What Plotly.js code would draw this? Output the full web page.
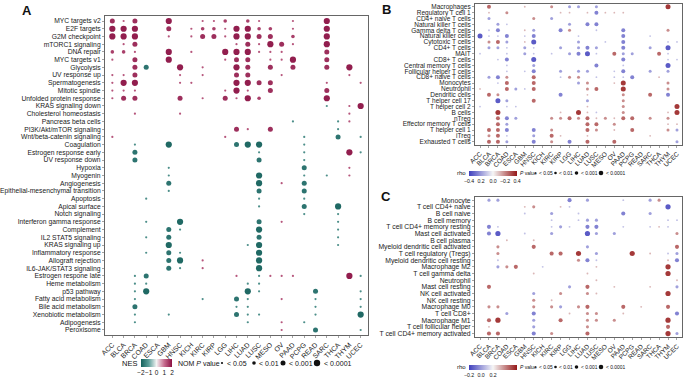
<!DOCTYPE html>
<html><head><meta charset="utf-8">
<script src="https://cdn.plot.ly/plotly-3.0.1.min.js"></script>
<style>html,body{margin:0;padding:0;background:#fff}#chart{width:691px;height:378px}</style>
</head><body><div id="chart"></div>
<script>
// ---------------- DATA ----------------
const cancers = ['ACC','BLCA','BRCA','COAD','ESCA','GBM','HNSC','KICH','KIRC','KIRP','LGG','LIHC','LUAD','LUSC','MESO','OV','PAAD','PCPG','READ','SARC','THCA','THYM','UCEC'];

const hallmarks = ['MYC targets v2','E2F targets','G2M checkpoint','mTORC1 signaling','DNA repair','MYC targets v1','Glycolysis','UV response up','Spermatogenesis','Mitotic spindle','Unfolded protein response','KRAS signaling down','Cholesterol homeostasis','Pancreas beta cells','PI3K/Akt/mTOR signaling','Wnt/beta-catenin signaling','Coagulation','Estrogen response early','UV response down','Hypoxia','Myogenin','Angiogenesis','Epithelial-mesenchymal transition','Apoptosis','Apical surface','Notch signaling','Interferon gamma response','Complement','IL2 STAT5 signaling','KRAS signaling up','Inflammatory response','Allograft rejection','IL6-JAK/STAT3 signaling','Estrogen respone late','Heme metabolism','p53 pathway','Fatty acid metabolism','Bile acid metabolism','Xenobiotic metabolism','Adipogenesis','Peroxisome'];

// one string per row, one char per cancer: '.' = n.s., '1'-'4' = positive NES, 'a'-'d' = negative NES
// (1/a: P<0.05, 2/b: P<0.01, 3/c: P<0.001, 4/d: P<0.0001)
const gridA = [
'313..4..112.21..1..4...',
'444..3.12214422.1..4...',
'444..1.13314433.2..4...',
'.13........131431..4...',
'221..4.1..444111...3...',
'1.3..4....133.114..3...',
'..3c..4.1..43.3.3..3.4.',
'113...1.1..33..1.....1.',
'144...11...4433....1..1',
'111.......141.3....3...',
'133...3.1.3142.....4...',
'...................a.14',
'..1...1..............1.',
'................a...a1.',
'...........31.3.....a..',
'1.........1......a..c.a',
'..a..d.....cdd...a.....',
'..c..........a...a...4a',
'..c..........c...a.....',
'.....a...........c...1.',
'.....a.......d...a.a.1.',
'.....c.......d.1.c.....',
'.....a.......c...c.....',
'...a.........a...a.....',
'.............a...c..d..',
'.................a..a..',
'...a..d......c.1....a..',
'.....ca......d......a..',
'...a.c.......c......a..',
'.....d......ad......a..',
'...a.ca......d.........',
'.....cd.1....d.........',
'.....ca.1....d.........',
'..ac.......1.a111....4a',
'..aa........aa.........',
'..ad........da....c...a',
'..a.....a..ca..1..a...a',
'..c........aa.....a...a',
'..a..a.....caa....a...d',
'..a.........a..1.a.....',
'...............1..c...a'
];
const nesByClass = [0, 1.35, 1.6, 1.8, 2.0];

const immuneB = ['Macrophages','Regulatory T cell 1','CD4+ naive T cells','Natural killer T cells','Gamma delta T cells','Natural killer cells','Cytotoxic T cells','CD4+ T cells','MAIT','CD8+ T cells','Central memory T cells','Follicular helper T cells','CD8+ naive T cells','Monocytes','Neutrophil','Dendritic cells','T helper cell 17','T helper cell 2','B cells','nTreg','Effector memory T cells','T helper cell 1','iTreg','Exhausted T cells'];
const gridB = [
'.3...1..2.bb.b.......4.',
'.1.2.....11.1c111......',
'.b....2.b..............',
'..ba......b.cc.........',
'.ac..1b..c2..a..c....2.',
'daac.ac....a....c..a...',
'.23b.1d....b..a.c....aa',
'.bba.ba..b.bcb..c..b.d.',
'a..a.ba.a.bcda.3bb..3a.',
'..ac..d.........c....aa',
'...a..b......c..a....d.',
'...a.ac..b.bb..ac..b.b.',
'.bc2..3..a22.a.aac..1..',
'..a3..3....b2..14....2.',
'1..3ba3.....23..4....2.',
'.32......c..1...2..3.c.',
'..db..3.....b...2......',
'a..aa.......1...2.....4',
'..4......1.41a..2....14',
'..3cb...2232312133.2.2.',
'..3b........33.2.....11',
'.33c..c.2...32.1.3...2b',
'.23a..b.31..1......1...',
'.33b..c.2.c.3..3......b'
];
const cellsC = ['Monocyte','T cell CD4+ naive','B cell naive','B cell memory','T cell CD4+ memory resting','Mast cell activated','B cell plasma','Myeloid dendritic cell activated','T cell regulatory (Tregs)','Myeloid dendritic cell resting','Macrophage M2','T cell gamma delta','Neutrophil','Mast cell resting','NK cell activated','NK cell resting','Macrophage M0','T cell CD8+','Macrophage M1','T cell follicular helper','T cell CD4+ memory activated'];
const gridC = [
'.bb.......c.b...a..b2..',
'.....12..1a..........d.',
'.....a..b..a....c..b...',
'........a..abb.......aa',
'.ca.....aba.cc..a..a1a.',
'.cd..a..b...db.b......2',
'...1..1................',
'..2...3.....b.........3',
'..2.....33.4.b...4.1.ab',
'..a........2ca.......1c',
'..b23..a.....1.......4.',
'......1.....1........4.',
'.............1........1',
'.3........b.3..1...1..b',
'......b..2..21.......4.',
'......2.1..............',
'.22...2.2b.23...3.1..3.',
'...b..c...1.22..1.....c',
'.34...b..3..22.2.....4.',
'.1....b.....2........3.',
'.33...c.2...3........4b'
];
const rhoByClass = [0, 0.12, 0.2, 0.27, 0.36];
const pClassLabels = ['< 0.05','< 0.01','< 0.001','< 0.0001'];

// ---------------- DRAW ----------------
const W=691,H=378;
const FONT='Liberation Sans, Arial, Helvetica, sans-serif';
const px=x=>x/W, py=y=>1-y/H;

function decode(grid, mags){
  const xs=[],ys=[],vals=[],cls=[];
  grid.forEach((row,r)=>{
    for(let c=0;c<cancers.length;c++){
      const ch=row[c]||'.';
      if(ch==='.') continue;
      let k,s;
      if(ch>='1'&&ch<='4'){k=+ch;s=1;} else {k=ch.charCodeAt(0)-96;s=-1;}
      xs.push(c); ys.push(r); vals.push(s*mags[k]); cls.push(k);
    }
  });
  return {xs,ys,vals,cls};
}
const dA=decode(gridA,nesByClass), dB=decode(gridB,rhoByClass), dC=decode(gridC,rhoByClass);
const sizeA=[0,2.2,3.6,5,6.2], sizeB=[0,1.8,3,4,5], sizeC=[0,1.9,3.1,4.1,5.2];

function tr(d,sizes,xa,ya,ca){
  return {type:'scatter',mode:'markers',x:d.xs,y:d.ys,xaxis:xa,yaxis:ya,hoverinfo:'skip',showlegend:false,
    marker:{size:d.cls.map(k=>sizes[k]),color:d.vals,coloraxis:ca,line:{width:0},opacity:0.95}};
}
const idx=a=>a.map((_,i)=>i);

function xax(dom,range,fs){
  return {domain:dom,range,tickmode:'array',tickvals:idx(cancers),ticktext:cancers,tickangle:-45,
    tickfont:{size:fs,color:'#1a1a1a',family:FONT},showline:true,mirror:true,linecolor:'#666',linewidth:1,
    ticks:'outside',ticklen:2,tickwidth:0.6,tickcolor:'#666',showgrid:false,zeroline:false,fixedrange:true};
}
function yax(dom,range,labels,fs){
  return {domain:dom,range,tickmode:'array',tickvals:idx(labels),ticktext:labels,
    tickfont:{size:fs,color:'#1a1a1a',family:FONT},showline:true,mirror:true,linecolor:'#666',linewidth:1,
    ticks:'outside',ticklen:2,tickwidth:0.6,tickcolor:'#666',showgrid:false,zeroline:false,fixedrange:true};
}

function cbar(x0,len,ytop,thick,tickvals,ticktext,fs){
  return {orientation:'h',x:px(x0),xanchor:'left',y:py(ytop),yanchor:'top',len,lenmode:'pixels',
    thickness:thick,thicknessmode:'pixels',xpad:0,ypad:0,outlinewidth:0,ticks:'',ticklen:0,tickangle:0,
    tickmode:'array',tickvals,ticktext,tickfont:{size:fs,color:'#111',family:FONT}};
}

function ann(text,x,y,size,anchor,extra){
  return Object.assign({text,x:px(x),y:py(y),xref:'paper',yref:'paper',showarrow:false,
    xanchor:anchor||'left',yanchor:'middle',borderpad:0,font:{size,color:'#111',family:FONT}},extra||{});
}
function dot(x,y,r){
  return {type:'circle',xref:'paper',yref:'paper',xsizemode:'pixel',ysizemode:'pixel',
    xanchor:px(x),yanchor:py(y),x0:-r,x1:r,y0:-r,y1:r,fillcolor:'#111',line:{width:0}};
}

const annotations=[
  ann('<b>A</b>',27,11,13,'center'),
  ann('<b>B</b>',386,9,13,'center'),
  ann('<b>C</b>',386,196,13,'center'),
  ann('NES',138,363,7.5,'right'),
  ann('NOM <i>P</i> value',177,363,7,'left')
];
const shapes=[];
// legend A
[[222,1.1],[254,1.8],[283,2.5],[317,3.2]].forEach((p,i)=>{shapes.push(dot(p[0],363,p[1]));annotations.push(ann(pClassLabels[i],p[0]+p[1]+2.5,363,7,'left'));});
// legends B and C
[[173],[367]].forEach(([yy])=>{
  annotations.push(ann('rho',467,yy,6,'right'));
  annotations.push(ann('<i>P</i> value',519,yy,5,'left'));
  [[535.5,0.8],[555.5,1.3],[576.5,1.8],[601,2.3]].forEach((p,i)=>{shapes.push(dot(p[0],yy,p[1]));annotations.push(ann(pClassLabels[i],p[0]+p[1]+1.6,yy,4.9,'left'));});
});

const layout={
  width:W,height:H,margin:{l:0,r:0,t:0,b:0},paper_bgcolor:'#fff',plot_bgcolor:'#fff',
  font:{family:FONT,color:'#111'},showlegend:false,
  xaxis:Object.assign(xax([px(105),px(368)],[-0.65,22.65],7),{anchor:'y'}),
  yaxis:Object.assign(yax([py(335),py(16)],[40.65,-0.65],hallmarks,6.75),{anchor:'x'}),
  xaxis2:Object.assign(xax([px(475),px(682)],[-0.56,22.56],6.5),{anchor:'y2'}),
  yaxis2:Object.assign(yax([py(144.5),py(4)],[23.47,-0.47],immuneB,6.5),{anchor:'x2'}),
  xaxis3:Object.assign(xax([px(475),px(682)],[-0.56,22.56],6.5),{anchor:'y3'}),
  yaxis3:Object.assign(yax([py(337),py(196.7)],[20.52,-0.52],cellsC,6.8),{anchor:'x3'}),
  coloraxis:{cmin:-2,cmax:2,colorscale:[[0,'#14615c'],[0.25,'#5c9f9a'],[0.5,'#f3f3f3'],[0.75,'#c76d8f'],[1,'#8c1244']],
    colorbar:cbar(141,31,359,8,[-2,-1,0,1,2],['−2','−1','0','1','2'],6.5)},
  coloraxis2:{cmin:-0.4,cmax:0.4,colorscale:[[0,'#4040bd'],[0.5,'#f6f6f6'],[1,'#951818']],
    colorbar:cbar(469,48,170.5,5,[-0.4,-0.2,0,0.2,0.4],['−0.4','0.2','0.0','−0.2','0.4'],5.2)},
  coloraxis3:{cmin:-0.4,cmax:0.4,colorscale:[[0,'#4040bd'],[0.5,'#f6f6f6'],[1,'#951818']],
    colorbar:cbar(469,48,364.5,5,[-0.4,-0.2,0],['−0.2','0.0','0.2'],5.2)},
  annotations,shapes
};

Plotly.newPlot('chart',[tr(dA,sizeA,'x','y','coloraxis'),tr(dB,sizeB,'x2','y2','coloraxis2'),tr(dC,sizeC,'x3','y3','coloraxis3')],layout,{staticPlot:true,displayModeBar:false});
</script></body></html>
